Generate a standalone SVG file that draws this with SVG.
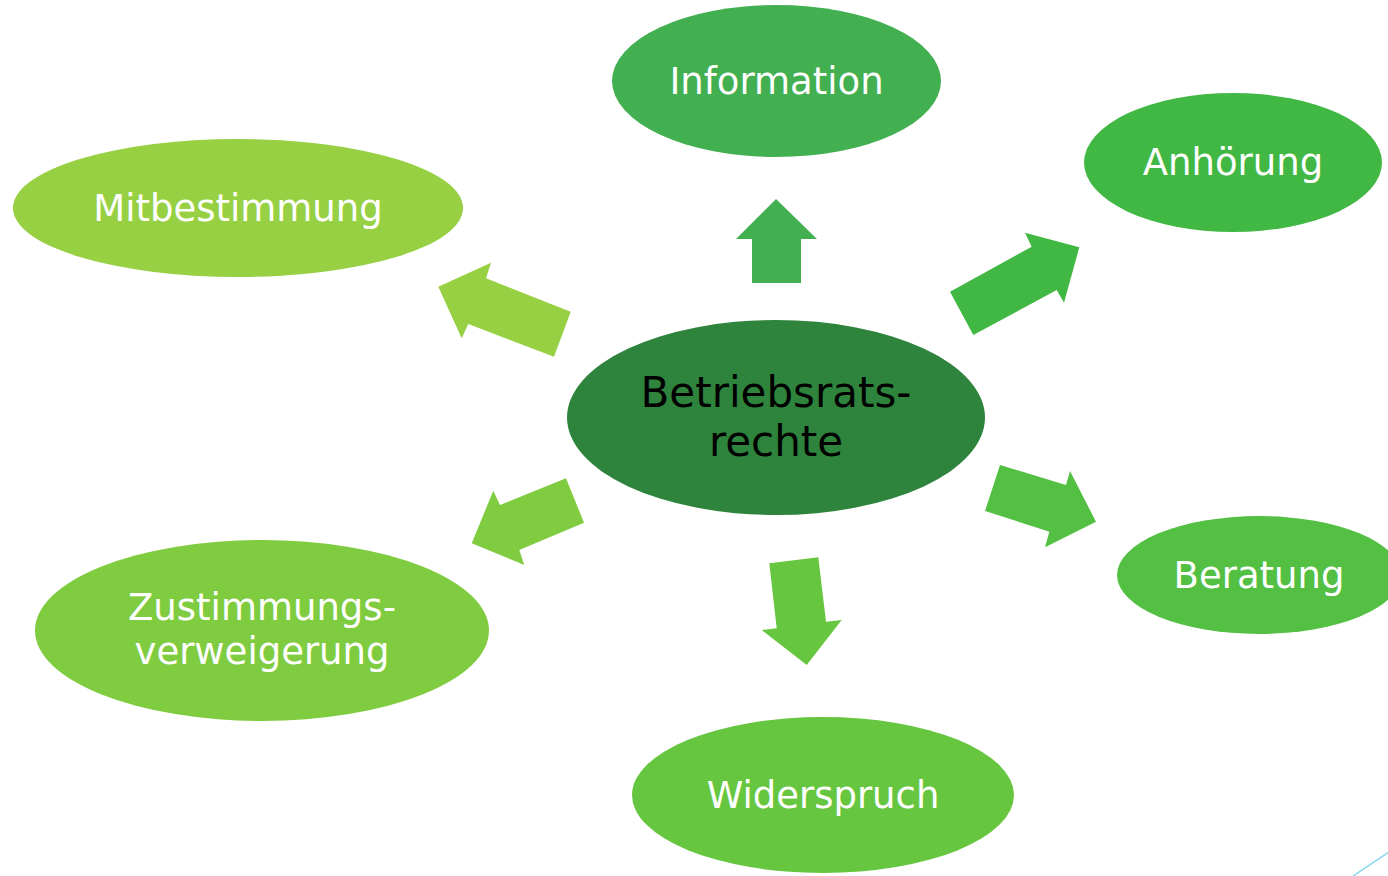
<svg xmlns="http://www.w3.org/2000/svg" width="1388" height="876" viewBox="0 0 1388 876">
<style>
text{font-family:"DejaVu Sans","Liberation Sans",sans-serif;text-anchor:middle}
.o{fill:#fff;font-size:37px}
.c{fill:#000;font-size:42px}
</style>
<rect width="1388" height="876" fill="#fff"/>
<g id="connectors">
<polygon points="776,199 817,239 801,239 801,283 752,283 752,239 736,239" fill="#42af50"/>
<polygon points="950,291.7 1031.7,246.7 1025,232.7 1079.3,247.3 1064,302.7 1056.7,290 973.3,335" fill="#41b843"/>
<polygon points="438.3,286.7 491,262.7 486,278.3 570.7,311.7 554,356.7 468.3,324 461.7,338.3" fill="#97d043"/>
<polygon points="471.7,543.3 493.3,490.7 500,505 566,478.3 584,522.7 519.3,550 524.3,565" fill="#80cc41"/>
<polygon points="769.3,563.3 818.3,557.3 826,621.7 841.7,620 806.7,665 761.7,630 776.7,628.3" fill="#67c63f"/>
<polygon points="1000,465 1066,485 1070,471 1096,521.7 1045,547.3 1049.3,531.7 985,511" fill="#53c043"/>
</g>
<g id="center"><ellipse cx="776" cy="417.5" rx="209" ry="97.5" fill="#2e843c"/><text class="c" x="776" y="407">Betriebsrats-</text><text class="c" x="776" y="456">rechte</text></g>
<g id="information"><ellipse cx="776.5" cy="81" rx="164.5" ry="76" fill="#42af50"/><text class="o" x="776.5" y="94">Information</text></g>
<g id="anhoerung"><ellipse cx="1233" cy="162.5" rx="149" ry="69.5" fill="#41b843"/><text class="o" x="1233" y="175">Anhörung</text></g>
<g id="mitbestimmung"><ellipse cx="238" cy="208" rx="225" ry="69" fill="#97d043"/><text class="o" x="238" y="221">Mitbestimmung</text></g>
<g id="beratung"><ellipse cx="1259" cy="575" rx="142" ry="59" fill="#53c043"/><text class="o" x="1259" y="588">Beratung</text></g>
<g id="zustimmungsverweigerung"><ellipse cx="262" cy="630.5" rx="227" ry="90.5" fill="#80cc41"/><text class="o" x="262" y="620">Zustimmungs-</text><text class="o" x="262" y="664">verweigerung</text></g>
<g id="widerspruch"><ellipse cx="823" cy="795" rx="191" ry="78" fill="#67c63f"/><text class="o" x="823" y="808">Widerspruch</text></g>
<line x1="1353" y1="876" x2="1389" y2="852" stroke="#84d4ef" stroke-width="1.5"/>
</svg>
